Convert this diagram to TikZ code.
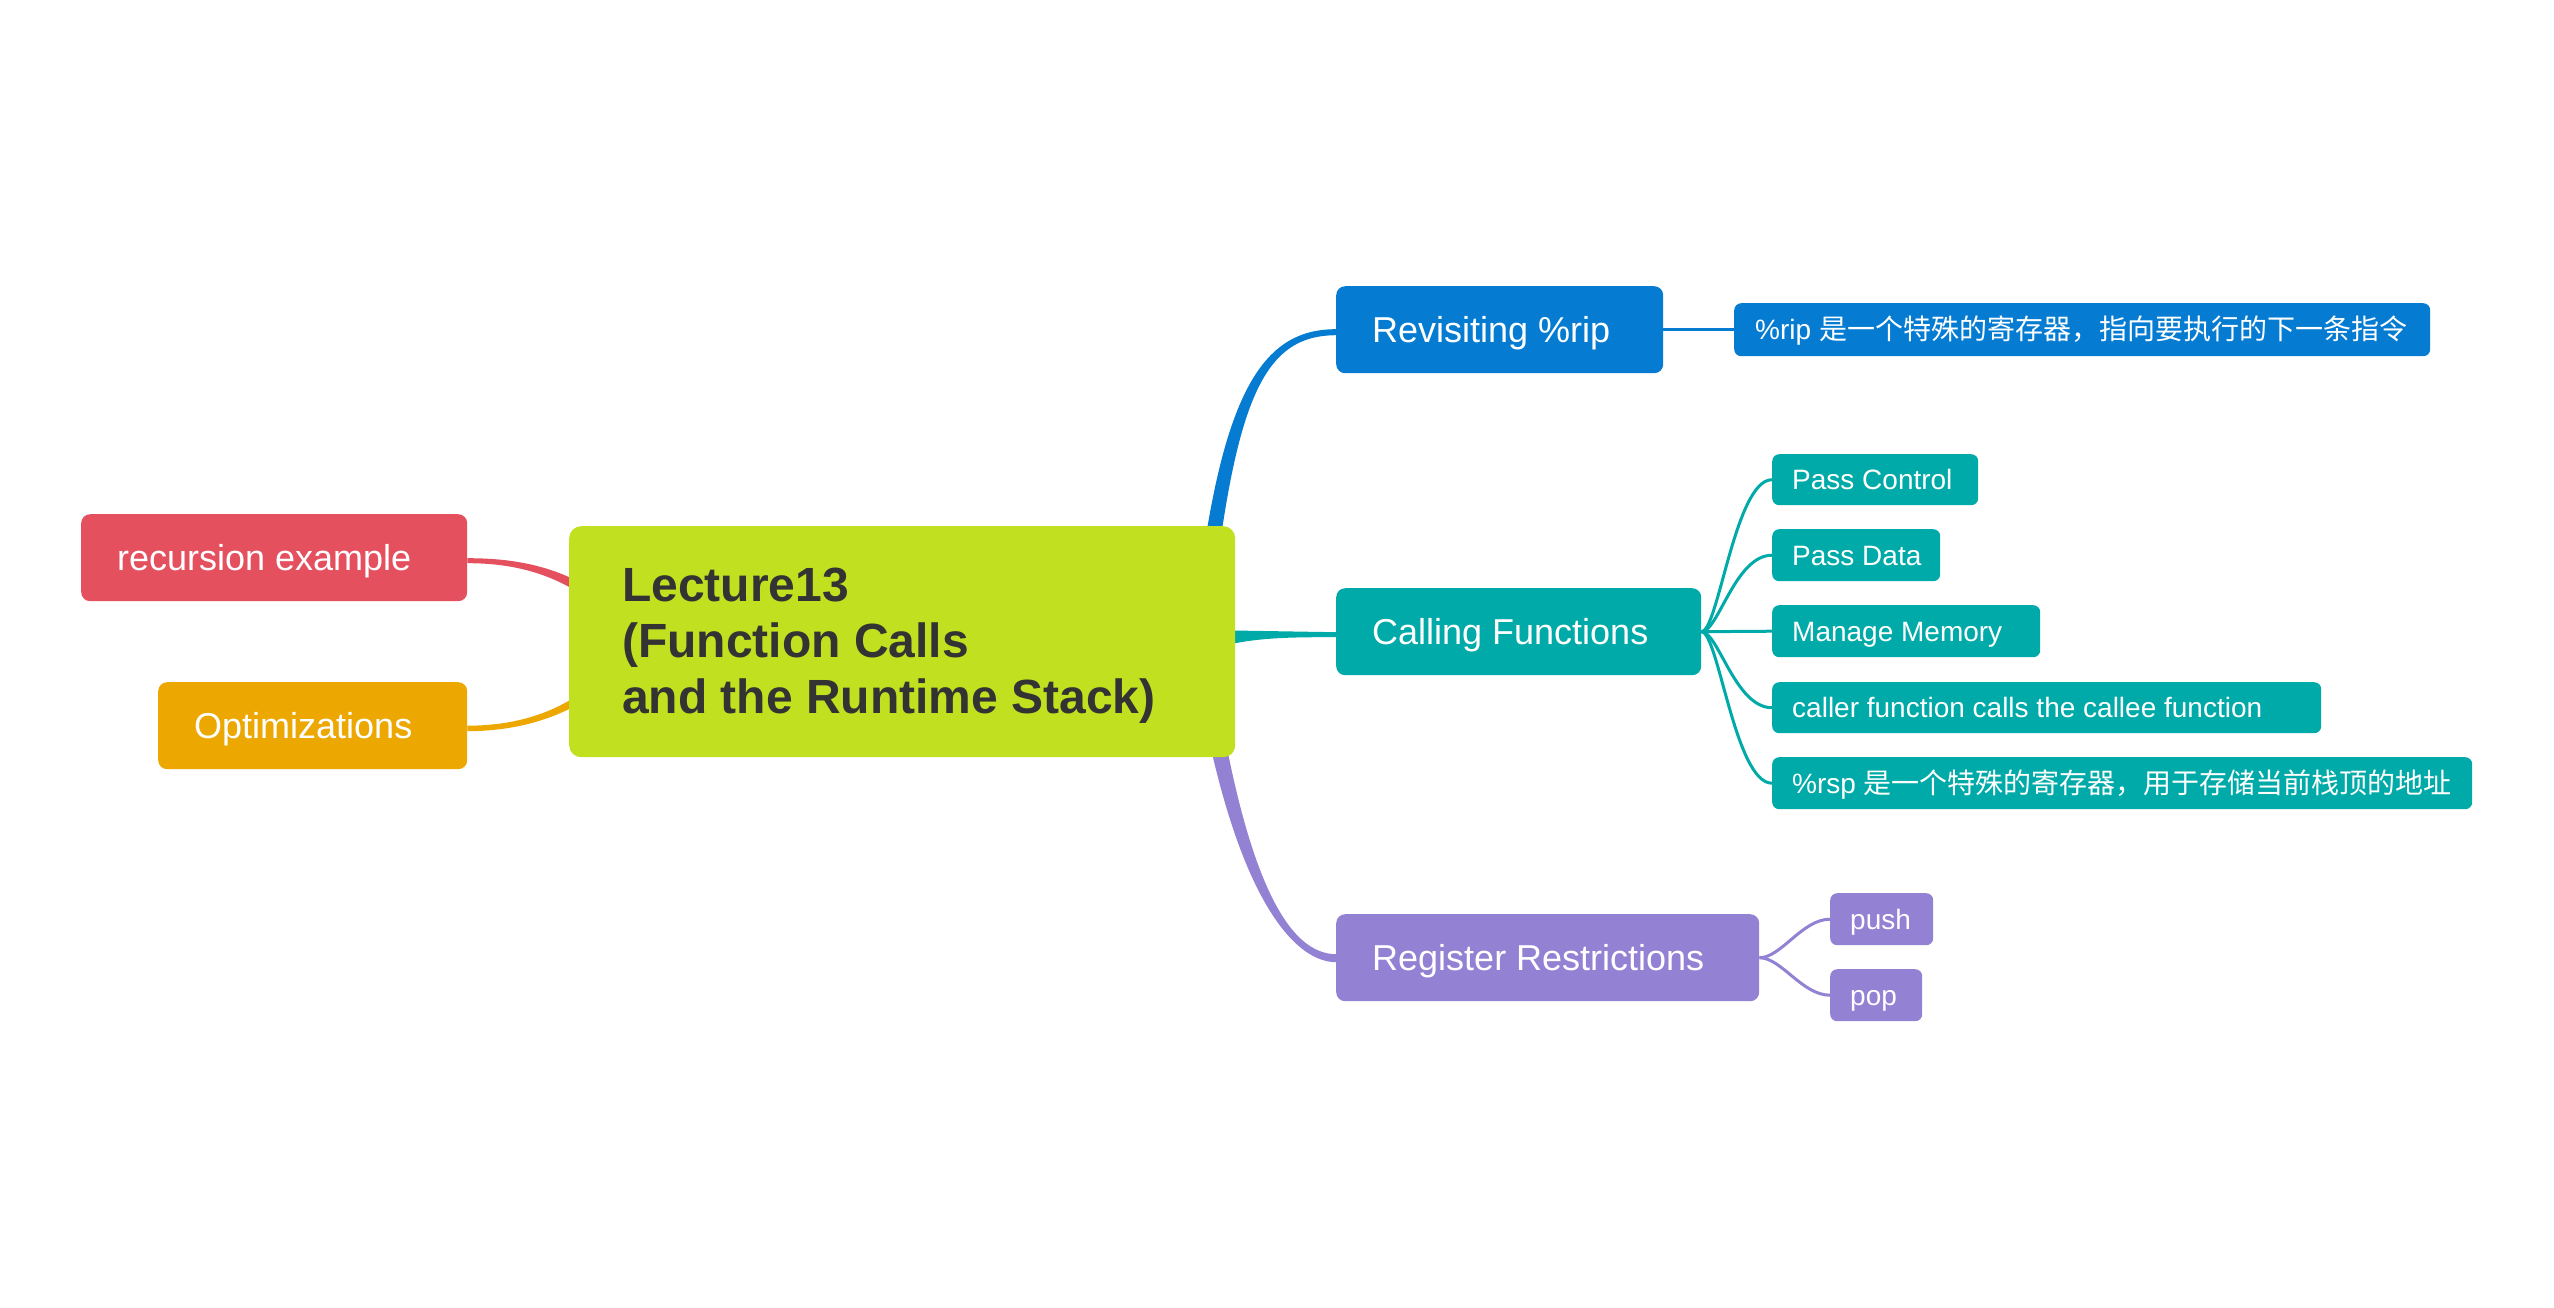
\documentclass[tikz,border=0pt]{standalone}
\usepackage{fontspec}
\setmainfont{Liberation Sans}
\newfontfamily\cjk{Noto Sans CJK SC}
\usetikzlibrary{calc,backgrounds}
\definecolor{clime}{HTML}{C0E020}
\definecolor{cred}{HTML}{E5505F}
\definecolor{corange}{HTML}{ECA800}
\definecolor{cblue}{HTML}{057CD2}
\definecolor{cteal}{HTML}{00AAA8}
\definecolor{cpurple}{HTML}{9381D4}
\definecolor{ctext}{HTML}{333333}
\tikzset{
  tbase/.style={rectangle, anchor=north west, inner ysep=0pt, text=white, text depth=0pt},
  lone/.style={tbase, font=\fontsize{36}{43}\selectfont, text height=25.8pt, inner xsep=36pt, rounded corners=9pt, minimum height=87pt},
  ltwo/.style={tbase, font=\fontsize{28}{34}\selectfont, text height=20pt, inner xsep=20pt, rounded corners=7pt},
  rootbox/.style={rectangle, anchor=north west, fill=clime, rounded corners=12pt, inner sep=0pt},
  roottxt/.style={anchor=west, inner sep=0pt, align=left, text=ctext,
    font=\fontsize{48}{56}\selectfont\bfseries},
  subline/.style={line width=3pt},
}
\begin{document}
\begin{tikzpicture}[x=1pt,y=-1pt]
\useasboundingbox (0,0) rectangle (2554,1307);
% nodes
\node[rootbox, minimum width=666pt, minimum height=231pt] (root) at (569,526) {};
\node[roottxt] (roottext) at (622,646) {Lecture13\\(Function Calls\\and the Runtime Stack)};

\node[lone, fill=cred, minimum width=386pt] (rec) at (81,514) {\makebox[314pt][l]{recursion example}};
\node[lone, fill=corange, minimum width=309pt] (opt) at (158,682) {\makebox[237pt][l]{Optimizations}};

\node[lone, fill=cblue, minimum width=327pt] (rev) at (1336,286) {\makebox[255pt][l]{Revisiting \%rip}};
\node[lone, fill=cteal, minimum width=365pt] (call) at (1336,588) {\makebox[293pt][l]{Calling Functions}};
\node[lone, fill=cpurple, minimum width=423pt] (reg) at (1336,914) {\makebox[351pt][l]{Register Restrictions}};

\node[ltwo, fill=cblue, minimum width=696pt, minimum height=53pt, inner xsep=21pt] (ripc) at (1734,303) {\makebox[654pt][l]{\%rip {\cjk 是一个特殊的寄存器，指向要执行的下一条指令}}};

\node[ltwo, fill=cteal, minimum width=206pt, minimum height=51pt] (pc) at (1772,454) {\makebox[166pt][l]{Pass Control}};
\node[ltwo, fill=cteal, minimum width=168pt, minimum height=52pt] (pd) at (1772,529) {\makebox[128pt][l]{Pass Data}};
\node[ltwo, fill=cteal, minimum width=268pt, minimum height=52pt] (mm) at (1772,605) {\makebox[228pt][l]{Manage Memory}};
\node[ltwo, fill=cteal, minimum width=549pt, minimum height=51pt] (caller) at (1772,682) {\makebox[509pt][l]{caller function calls the callee function}};
\node[ltwo, fill=cteal, minimum width=700pt, minimum height=52pt] (rsp) at (1772,757) {\makebox[660pt][l]{\%rsp {\cjk 是一个特殊的寄存器，用于存储当前栈顶的地址}}};

\node[ltwo, fill=cpurple, minimum width=103pt, minimum height=52pt] (push) at (1830,893) {\makebox[63pt][l]{push}};
\node[ltwo, fill=cpurple, minimum width=92pt, minimum height=52pt] (pop) at (1830,969) {\makebox[52pt][l]{pop}};

\begin{scope}[on background layer]
\fill[white] (0,0) rectangle (2554,1307);
% main branches (tapered)
\fill[cblue] ($(root.east)+(-43,0)$) .. controls (1217,400) and (1258,329) .. ($(rev.west)+(0,-0.5)$)
  -- ($(rev.west)+(0,5.5)$) .. controls (1262,335.5) and (1233,400) .. ($(root.east)+(-27,0)$) -- cycle;
\fill[cpurple] ($(root.east)+(-44,0)$) .. controls (1227,885) and (1290,962) .. ($(reg.west)+(0,4.5)$)
  -- ($(reg.west)+(0,-3.5)$) .. controls (1290,954) and (1243,885) .. ($(root.east)+(-26,0)$) -- cycle;
\fill[cteal] ($(root.east)+(-20,-11.5)$) -- ($(call.west)+(0,0.5)$) -- ($(call.west)+(0,5.5)$)
  .. controls (1290,637) and (1262,638) .. ($(root.east)+(0,1.5)$) -- ($(root.east)+(-20,1.5)$) -- cycle;
\fill[cred] ($(rec.east)+(0,0.5)$) .. controls (530,558) and (588,573) .. (634,626)
  -- (626,634) .. controls (582,583) and (530,563) .. ($(rec.east)+(0,5.5)$) -- cycle;
\fill[corange] ($(opt.east)+(0,0)$) .. controls (530,725.5) and (582,705) .. (626,651)
  -- (634,659) .. controls (588,711) and (530,731) .. ($(opt.east)+(0,5.5)$) -- cycle;
% sub branches
\draw[subline, cblue] (rev.east) -- (ripc.west);
\draw[subline, cteal] (call.east) .. controls +(17,0) and +(-37,0) .. (pc.west);
\draw[subline, cteal] (call.east) .. controls +(17,0) and +(-37,0) .. (pd.west);
\draw[subline, cteal] (call.east) -- (mm.west);
\draw[subline, cteal] (call.east) .. controls +(17,0) and +(-37,0) .. (caller.west);
\draw[subline, cteal] (call.east) .. controls +(17,0) and +(-37,0) .. (rsp.west);
\draw[subline, cpurple] (reg.east) .. controls +(22,0) and +(-28,0) .. (push.west);
\draw[subline, cpurple] (reg.east) .. controls +(22,0) and +(-28,0) .. (pop.west);
\end{scope}
\end{tikzpicture}
\end{document}
